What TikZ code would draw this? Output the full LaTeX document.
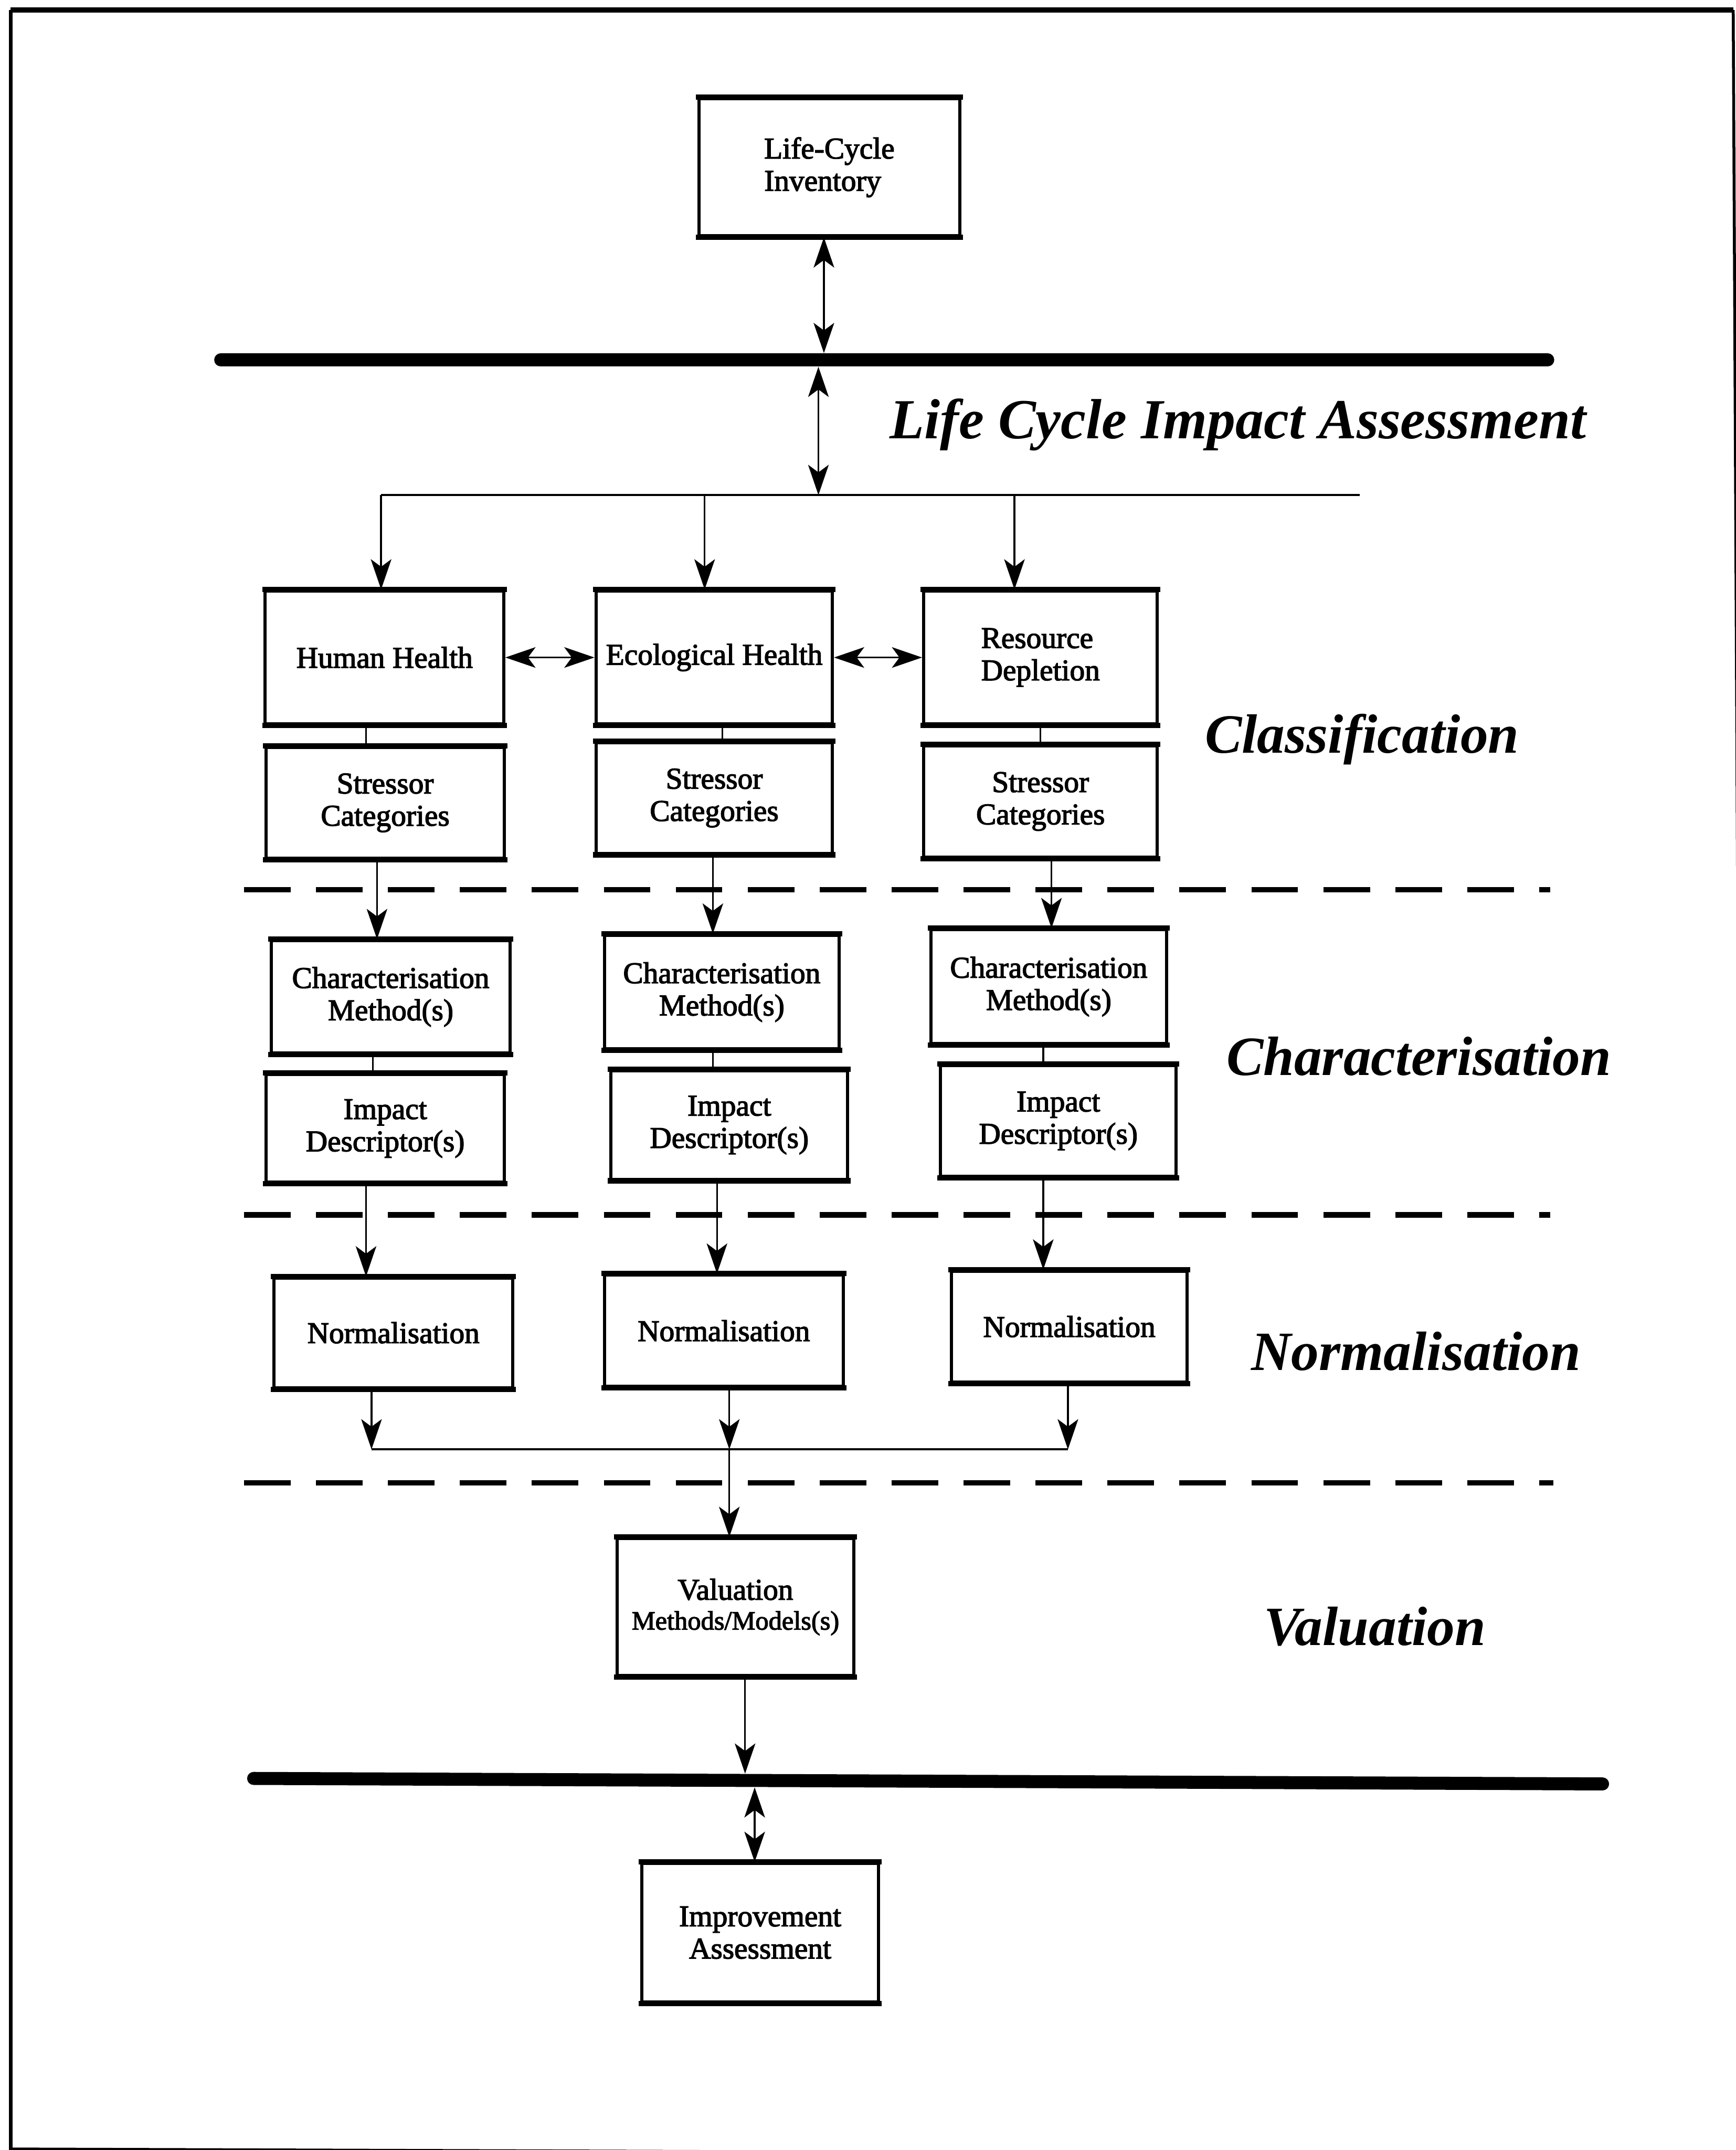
\documentclass[tikz,border=0pt]{standalone}
\usepackage{fontspec}
\setmainfont{Liberation Serif}
\newfontfamily\boxfont{Liberation Serif}[RawFeature={embolden=2.5}]
\usetikzlibrary{arrows.meta,calc}

\begin{document}
\begin{tikzpicture}[x=0.02cm,y=-0.02cm,
  blk/.style 2 args={draw, line width=1.3pt, inner sep=0pt, align=center,
    minimum width=#1*0.02cm, minimum height=#2*0.02cm,
    font=\boxfont\fontsize{12.5}{13.4}\selectfont},
  conn/.style={line width=0.75pt},
  arr/.style={conn, -{Stealth[length=0.44cm,width=0.3cm,inset=0.11cm]}},
  darr/.style={conn, {Stealth[length=0.44cm,width=0.3cm,inset=0.11cm]}-{Stealth[length=0.44cm,width=0.3cm,inset=0.11cm]}},
  bar/.style={line width=5.4pt, line cap=round},
  divider/.style={line width=2.2pt, dash pattern=on 0.68cm off 0.37cm},
  stage/.style={font=\fontsize{23}{27}\selectfont\bfseries\itshape, anchor=base, inner sep=0pt},
  edgethick/.style={line width=2.2pt}
]
\useasboundingbox (0,0) rectangle (1266,1568);

% page frame
\draw[line width=1.5pt] (7.8,1570) -- (7.8,7.3);
\draw[line width=2.2pt] (7.8,7.3) -- (1264.3,7.3);
\draw[line width=1.2pt] (1264.3,7.3) -- (1272,1568);
\draw[line width=1.5pt] (7.8,1567.5) -- (1266,1572);

% boxes
\node[blk={190}{100}, align=left] (inv) at (605,122) {Life-Cycle\\Inventory};

\node[blk={174}{97}]   (hh) at (280.5,479.5) {Human Health};
\node[blk={172.5}{97}] (eh) at (521,479.5)   {Ecological Health};
\node[blk={170.5}{97}, align=left] (rd) at (759,479.5) {Resource\\Depletion};

\node[blk={173.5}{81}]   (sc1) at (281,585.5) {Stressor\\Categories};
\node[blk={172.5}{80.5}] (sc2) at (521,582)   {Stressor\\Categories};
\node[blk={170.5}{81}]   (sc3) at (759,584.5) {Stressor\\Categories};

\node[blk={174}{82}] (cm1) at (285,727)   {Characterisation\\Method(s)};
\node[blk={171}{83}] (cm2) at (526.5,723.5) {Characterisation\\Method(s)};
\node[blk={172}{83}] (cm3) at (765,719.5) {Characterisation\\Method(s)};

\node[blk={173.5}{78.5}] (id1) at (281,823)   {Impact\\Descriptor(s)};
\node[blk={172.5}{79}]   (id2) at (532,820.5) {Impact\\Descriptor(s)};
\node[blk={172}{81}]     (id3) at (772,817.5) {Impact\\Descriptor(s)};

\node[blk={174}{80}] (no1) at (287,972)   {Normalisation};
\node[blk={174}{81}] (no2) at (528,970.5) {Normalisation};
\node[blk={172}{81}] (no3) at (780,967.5) {Normalisation};

\node[blk={173}{100}] (val) at (536.5,1172) {Valuation\\[-1pt]{\fontsize{11}{12}\selectfont Methods/Models(s)}};
\node[blk={173}{101}] (imp) at (554.5,1409.5) {Improvement\\Assessment};

% heavier top and bottom edges of the boxes
\foreach \n in {inv,hh,eh,rd,sc1,sc2,sc3,cm1,cm2,cm3,id1,id2,id3,no1,no2,no3,val,imp}{
  \draw[edgethick] ([xshift=-0.65pt]\n.north west) -- ([xshift=0.65pt]\n.north east);
  \draw[edgethick] ([xshift=-0.65pt]\n.south west) -- ([xshift=0.65pt]\n.south east);
}

% stage labels
\node[stage, font=\fontsize{23.5}{28}\selectfont\bfseries\itshape] (lcia) at (903,320) {Life Cycle Impact Assessment};
\node[stage] (lcl) at (993.5,549)  {Classification};
\node[stage] (lch) at (1035,784)   {Characterisation};
\node[stage] (lno) at (1033,999.5) {Normalisation};
\node[stage] (lva) at (1003,1200)  {Valuation};

% heavy boundary bars
\coordinate (b1L) at (161,262.5);
\coordinate (b1R) at (1129,262.5);
\draw[bar] (b1L) -- (b1R);
\coordinate (b2L) at (185,1297);
\coordinate (b2R) at (1169,1301);
\draw[bar] (b2L) -- (b2R);

% dashed stage dividers
\coordinate (d1L) at (178,649);    \coordinate (d1R) at (1131,649);
\coordinate (d2L) at (178,886);    \coordinate (d2R) at (1131,886);
\coordinate (d3L) at (178,1081.5); \coordinate (d3R) at (1133,1081.5);
\draw[divider] (d1L) -- (d1R);
\draw[divider] (d2L) -- (d2R);
\draw[divider] (d3L) -- (d3R);

% inventory <-> assessment
\coordinate (b1a) at (601,257.5);
\coordinate (b1b) at (597,267.5);
\coordinate (spl) at (597,361);
\draw[darr] (inv.south -| b1a) -- (b1a);
\draw[darr] (b1b) -- (spl);

% distribution line to the three impact categories
\coordinate (t1) at (278,361);
\coordinate (t2) at (514,361);
\coordinate (t3) at (740,361);
\coordinate (tR) at (992,361);
\draw[conn] (t1) -- (tR);
\draw[arr] (t1) -- (t1 |- hh.north);
\draw[arr] (t2) -- (t2 |- eh.north);
\draw[arr] (t3) -- (t3 |- rd.north);

\draw[darr] (hh.east) -- (eh.west);
\draw[darr] (eh.east) -- (rd.west);

% classification
\draw[conn] (hh.south -| 267,0) -- (sc1.north -| 267,0);
\draw[conn] (eh.south -| 527,0) -- (sc2.north -| 527,0);
\draw[conn] (rd.south -| 759,0) -- (sc3.north -| 759,0);

\draw[arr] (sc1.south -| 275,0) -- (cm1.north -| 275,0);
\draw[arr] (sc2.south -| 520,0) -- (cm2.north -| 520,0);
\draw[arr] (sc3.south -| 767,0) -- (cm3.north -| 767,0);

% characterisation
\draw[conn] (cm1.south -| 272,0) -- (id1.north -| 272,0);
\draw[conn] (cm2.south -| 520,0) -- (id2.north -| 520,0);
\draw[conn] (cm3.south -| 761,0) -- (id3.north -| 761,0);

\draw[arr] (id1.south -| 267,0) -- (no1.north -| 267,0);
\draw[arr] (id2.south -| 523,0) -- (no2.north -| 523,0);
\draw[arr] (id3.south -| 761,0) -- (no3.north -| 761,0);

% normalisation merge
\coordinate (j1) at (271,1057);
\coordinate (j2) at (532,1057);
\coordinate (j3) at (779,1057);
\draw[arr] (no1.south -| j1) -- (j1);
\draw[arr] (no2.south -| j2) -- (j2);
\draw[arr] (no3.south -| j3) -- (j3);
\draw[conn] (j1) -- (j3);
\draw[arr] (j2) -- (val.north -| j2);

% valuation -> improvement assessment
\coordinate (b2a) at (543.5,1293.5);
\coordinate (b2b) at (550.5,1303.5);
\draw[arr] (val.south -| b2a) -- (b2a);
\draw[darr] (b2b) -- (imp.north -| b2b);
\end{tikzpicture}
\end{document}
